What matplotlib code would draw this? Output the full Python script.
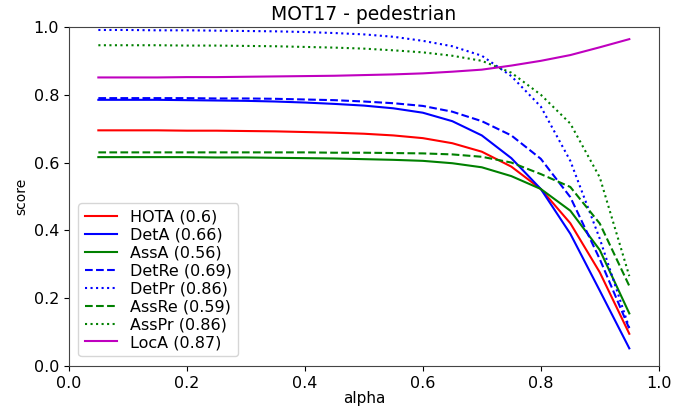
import numpy as np
import matplotlib
matplotlib.use('Agg')
import matplotlib.pyplot as plt

# alpha thresholds
alpha = [0.05, 0.10, 0.15, 0.20, 0.25, 0.30, 0.35, 0.40, 0.45, 0.50,
         0.55, 0.60, 0.65, 0.70, 0.75, 0.80, 0.85, 0.90, 0.95]

# scores
hota = [0.695, 0.695, 0.695, 0.694, 0.694, 0.693, 0.692, 0.690, 0.688, 0.685,
        0.680, 0.672, 0.657, 0.632, 0.588, 0.522, 0.421, 0.276, 0.095]
deta = [0.785, 0.785, 0.785, 0.784, 0.783, 0.782, 0.780, 0.777, 0.773, 0.768,
        0.760, 0.747, 0.722, 0.680, 0.613, 0.522, 0.390, 0.222, 0.052]
assa = [0.616, 0.616, 0.616, 0.616, 0.615, 0.615, 0.614, 0.613, 0.612, 0.610,
        0.608, 0.605, 0.598, 0.586, 0.560, 0.522, 0.458, 0.342, 0.155]
detre = [0.790, 0.790, 0.790, 0.790, 0.789, 0.789, 0.788, 0.786, 0.784, 0.780,
         0.775, 0.767, 0.750, 0.722, 0.680, 0.611, 0.498, 0.315, 0.110]
detpr = [0.991, 0.991, 0.990, 0.990, 0.989, 0.988, 0.987, 0.985, 0.982, 0.978,
         0.971, 0.959, 0.943, 0.915, 0.855, 0.765, 0.605, 0.375, 0.112]
assre = [0.630, 0.630, 0.630, 0.630, 0.630, 0.630, 0.630, 0.630, 0.629, 0.629,
         0.628, 0.627, 0.624, 0.617, 0.600, 0.566, 0.528, 0.420, 0.236]
asspr = [0.946, 0.946, 0.946, 0.945, 0.945, 0.944, 0.943, 0.941, 0.939, 0.936,
         0.931, 0.925, 0.915, 0.900, 0.865, 0.800, 0.715, 0.556, 0.265]
loca = [0.851, 0.851, 0.851, 0.852, 0.852, 0.853, 0.854, 0.855, 0.856, 0.858,
        0.860, 0.863, 0.868, 0.874, 0.886, 0.900, 0.917, 0.940, 0.964]

labels = ['HOTA (0.6)', 'DetA (0.66)', 'AssA (0.56)', 'DetRe (0.69)',
          'DetPr (0.86)', 'AssRe (0.59)', 'AssPr (0.86)', 'LocA (0.87)']

fig = plt.figure(figsize=(6.75, 4.08), dpi=100)
ax = fig.add_axes([0.102, 0.103, 0.874, 0.831])

ax.plot(alpha, hota, 'r-', label=labels[0])
ax.plot(alpha, deta, 'b-', label=labels[1])
ax.plot(alpha, assa, 'g-', label=labels[2])
ax.plot(alpha, detre, 'b--', label=labels[3])
ax.plot(alpha, detpr, 'b:', label=labels[4])
ax.plot(alpha, assre, 'g--', label=labels[5])
ax.plot(alpha, asspr, 'g:', label=labels[6])
ax.plot(alpha, loca, 'm-', label=labels[7])

ax.set_xlim(0, 1)
ax.set_ylim(0, 1)
ax.set_xlabel('alpha', fontsize=11, labelpad=0)
ax.set_ylabel('score', fontsize=10)
ax.set_title('MOT17 - pedestrian', fontsize=13.5, pad=5)
ax.legend(loc='lower left', fontsize=11.5, labelspacing=0.18,
          borderaxespad=0.6)
ax.tick_params(labelsize=11.5)
for s in ax.spines.values():
    s.set_color('#444444')

fig.savefig('out.png')
